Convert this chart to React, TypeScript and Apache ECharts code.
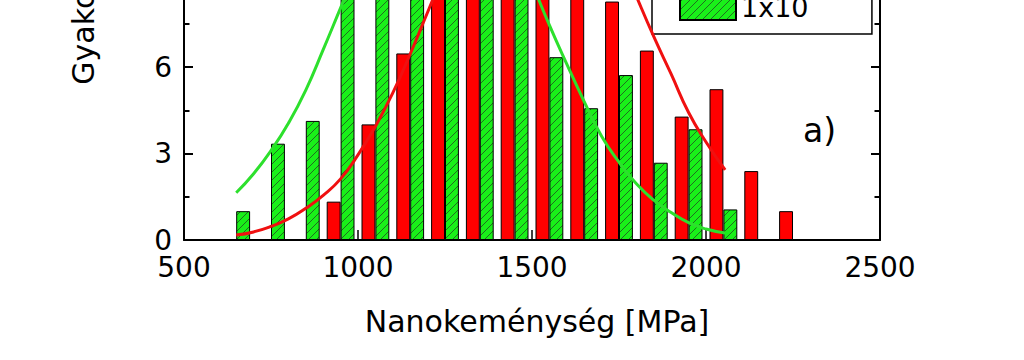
import React, { useEffect, useRef } from "react";
import * as echarts from "echarts";

// ---- data ----
const bins = [650, 750, 850, 950, 1050, 1150, 1250, 1350, 1450, 1550, 1650, 1750, 1850, 1950, 2050, 2150, 2250];
const redName = "kontroll";
const greenName = "1x10";
const redCounts = [null, null, null, 1.33, 4.01, 6.47, 10.6, 12.5, 13.6, 13.2, 10.6, 8.27, 6.57, 4.28, 5.23, 2.39, 1.0];
const greenCounts = [1.0, 3.34, 4.13, 9.3, 11.6, 12.5, 13.0, 11.5, 9.4, 6.34, 4.57, 5.72, 2.68, 3.84, 1.06, null, null];

const greenFitX = [650, 700, 750, 800, 850, 900, 950, 1000, 1050, 1100, 1150, 1200, 1250, 1300, 1350, 1400, 1450, 1500, 1550, 1600, 1650, 1700, 1750, 1800, 1850, 1900, 1950, 2000, 2055];
const greenFitY = [1.64, 2.3, 3.1, 4.05, 5.2, 6.6, 8.05, 9.5, 10.8, 11.9, 12.8, 13.3, 13.4, 13.2, 12.5, 11.5, 10.3, 8.9, 7.45, 6.1, 4.8, 3.6, 2.7, 1.95, 1.38, 0.95, 0.6, 0.38, 0.24];
const redFitX = [650, 700, 750, 800, 850, 900, 950, 1000, 1050, 1100, 1150, 1200, 1250, 1300, 1350, 1400, 1450, 1500, 1550, 1600, 1650, 1700, 1750, 1800, 1850, 1900, 1950, 2000, 2055];
const redFitY = [0.17, 0.28, 0.47, 0.73, 1.1, 1.55, 2.12, 2.95, 3.94, 5.1, 6.45, 7.9, 9.35, 10.75, 12.0, 13.0, 13.7, 14.0, 13.85, 13.3, 12.4, 11.3, 9.9, 8.45, 7.05, 5.75, 4.42, 3.4, 2.43];

const xMin = 500;
const xMax = 2500;
const xStep = 500;
const yMin = 0;
const yMax = 15;
const yStep = 3;
const panelLabel = "a)";
const xTitle = "Nanokeménység [MPa]";
const yTitle = "Gyakoriság";

const FONT = "'DejaVu Sans', 'Liberation Sans', sans-serif";
const SHIFT = 220; // part of the figure above the visible window
const W = 1024;
const H = 580;

function makeHatch(): HTMLCanvasElement {
  const c = document.createElement("canvas");
  const s = 8;
  c.width = s;
  c.height = s;
  const ctx = c.getContext("2d")!;
  ctx.fillStyle = "#19f019";
  ctx.fillRect(0, 0, s, s);
  ctx.strokeStyle = "#1f6e1f";
  ctx.lineWidth = 1;
  ctx.beginPath();
  ctx.moveTo(-1, s + 1);
  ctx.lineTo(s + 1, -1);
  ctx.moveTo(-1, 1);
  ctx.lineTo(1, -1);
  ctx.moveTo(s - 1, s + 1);
  ctx.lineTo(s + 1, s - 1);
  ctx.stroke();
  return c;
}

export default function App() {
  const ref = useRef<HTMLDivElement>(null);
  useEffect(() => {
    if (!ref.current) return;
    const chart = echarts.init(ref.current, null, { renderer: "svg" });
    const hatch = { image: makeHatch(), repeat: "repeat" } as any;
    const axisCommon = {
      type: "value" as const,
      axisLine: { show: true, onZero: false, lineStyle: { color: "#000", width: 2 } },
      splitLine: { show: false },
    };
    const plain = (v: number) => String(v);
    chart.setOption({
      animation: false,
      backgroundColor: "#fff",
      grid: { left: 184, right: 144, top: 27.5, bottom: 120, containLabel: false },
      legend: {
        orient: "vertical",
        left: 652,
        top: 163,
        padding: [12, 30, 13, 27],
        itemGap: 10,
        itemWidth: 56,
        itemHeight: 26,
        icon: "rect",
        borderColor: "#000",
        borderWidth: 1.5,
        backgroundColor: "#fff",
        data: [redName, greenName],
        textStyle: { fontSize: 27, color: "#000", fontFamily: FONT },
      },
      xAxis: [
        {
          ...axisCommon,
          min: xMin,
          max: xMax,
          interval: xStep,
          position: "bottom",
          name: xTitle,
          nameLocation: "middle",
          nameGap: 66,
          nameTextStyle: { fontSize: 30, color: "#000", fontFamily: FONT, padding: [0, 0, 0, 10] },
          axisTick: { show: true, inside: true, length: 10, lineStyle: { color: "#000", width: 1.5 } },
          axisLabel: { fontSize: 28, lineHeight: 20, color: "#000", fontFamily: FONT, margin: 17, formatter: plain },
        },
        {
          ...axisCommon,
          min: xMin,
          max: xMax,
          interval: xStep,
          position: "top",
          axisTick: { show: true, inside: true, length: 10, lineStyle: { color: "#000", width: 1.5 } },
          axisLabel: { show: false },
        },
      ],
      yAxis: [
        {
          ...axisCommon,
          min: yMin,
          max: yMax,
          interval: yStep,
          position: "left",
          name: yTitle,
          nameLocation: "middle",
          nameGap: 86,
          nameTextStyle: { fontSize: 30, color: "#000", fontFamily: FONT, padding: [0, 0, 0, 46] },
          axisTick: { show: true, inside: true, length: 9, lineStyle: { color: "#000", width: 2 } },
          minorTick: { show: true, splitNumber: 2, length: 5.5, lineStyle: { color: "#000", width: 2 } },
          axisLabel: { fontSize: 28, lineHeight: 20, color: "#000", fontFamily: FONT, margin: 12, formatter: plain },
        },
        {
          ...axisCommon,
          min: yMin,
          max: yMax,
          interval: yStep,
          position: "right",
          axisTick: { show: true, inside: true, length: 9, lineStyle: { color: "#000", width: 2 } },
          minorTick: { show: true, splitNumber: 2, length: 5.5, lineStyle: { color: "#000", width: 2 } },
          axisLabel: { show: false },
        },
      ],
      series: [
        {
          name: redName,
          type: "bar",
          barWidth: 13.9,
          barGap: "0%",
          data: bins.map((b, i) => [b, redCounts[i]]),
          itemStyle: { color: "#ff0000", borderColor: "#000", borderWidth: 1 },
        },
        {
          name: greenName,
          type: "bar",
          barWidth: 13.9,
          barGap: "0%",
          data: bins.map((b, i) => [b, greenCounts[i]]),
          itemStyle: { color: hatch, borderColor: "#000", borderWidth: 1 },
        },
        {
          name: "fit-red",
          type: "line",
          smooth: true,
          showSymbol: false,
          z: 5,
          data: redFitX.map((x, i) => [x, redFitY[i]]),
          lineStyle: { color: "#f01010", width: 3 },
          itemStyle: { color: "#f01010" },
        },
        {
          name: "fit-green",
          type: "line",
          smooth: true,
          showSymbol: false,
          z: 5,
          data: greenFitX.map((x, i) => [x, greenFitY[i]]),
          lineStyle: { color: "#2de02d", width: 3 },
          itemStyle: { color: "#2de02d" },
        },
      ],
      graphic: [
        {
          type: "text",
          x: 803,
          y: 350,
          z: 10,
          style: {
            text: panelLabel,
            fontSize: 33,
            fontFamily: FONT,
            fill: "#000",
            verticalAlign: "middle",
            align: "left",
          },
        },
      ],
    });
    return () => chart.dispose();
  }, []);
  return (
    <div
      ref={ref}
      style={{ position: "absolute", left: 0, top: -SHIFT, width: W, height: H }}
    />
  );
}
